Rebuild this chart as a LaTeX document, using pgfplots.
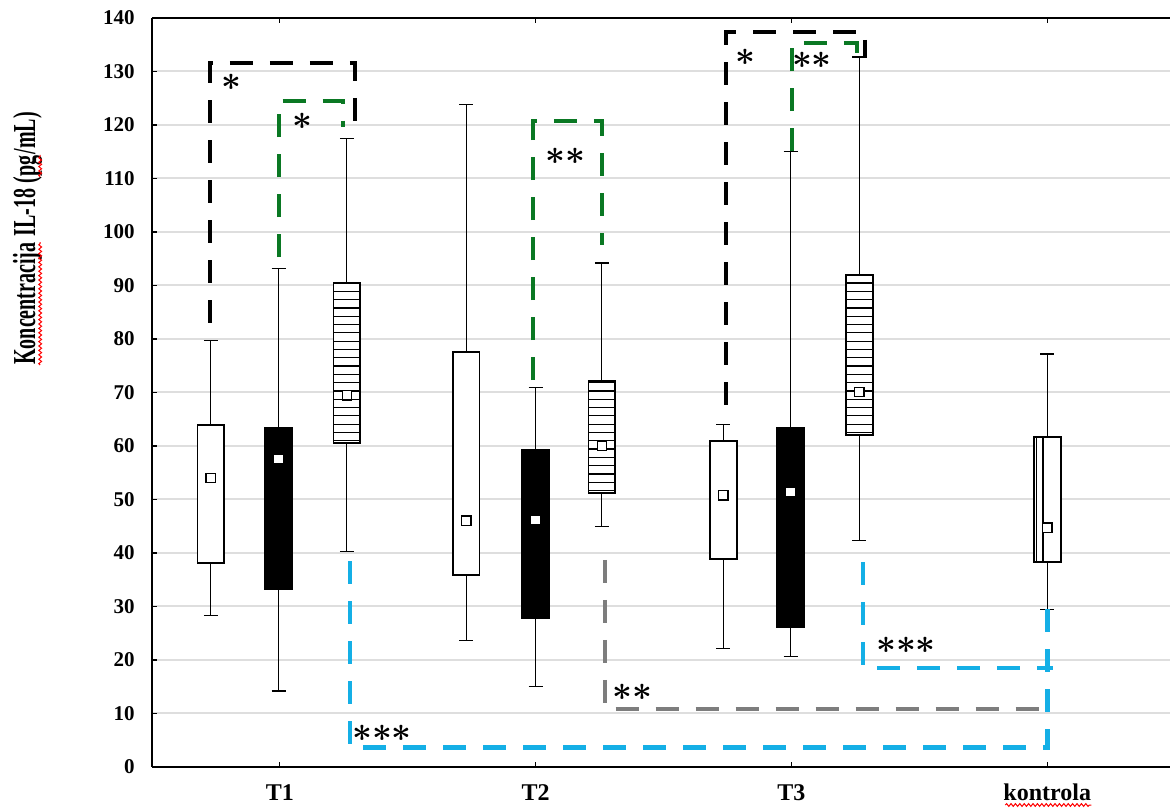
\documentclass[border=0pt]{standalone}
\usepackage{fontspec}
\setmainfont{Liberation Serif}
\usepackage{graphicx}
\usepackage{pgfplots}
\pgfplotsset{compat=1.18}
\usetikzlibrary{patterns,decorations.pathmorphing}
\pgfdeclarepatternformonly{hstripes}{\pgfpointorigin}{\pgfqpoint{100pt}{1pt}}{\pgfqpoint{100pt}{4.15pt}}{%
  \pgfsetlinewidth{0.6pt}%
  \pgfpathmoveto{\pgfqpoint{0pt}{0.5pt}}%
  \pgfpathlineto{\pgfqpoint{100pt}{0.5pt}}%
  \pgfusepath{stroke}}
\definecolor{sigGreen}{RGB}{10,120,35}
\definecolor{sigCyan}{RGB}{20,175,230}
\definecolor{sigGray}{RGB}{125,125,125}
\definecolor{gridGray}{RGB}{222,222,222}
\newcommand\st{{\boldmath$\ast$}}
\tikzset{
  redwave/.style={red, line width=0.5pt, decorate, decoration={snake, amplitude=0.7pt, segment length=2.2pt}},
  star/.style={font=\fontsize{16.5}{16.5}\selectfont, inner sep=0pt},
  ylab/.style={rotate=90, font=\bfseries\fontsize{10}{12}\selectfont, inner sep=0pt, anchor=base west},
}
\newcommand\tall[1]{\scalebox{1}[1.6]{#1}}
\pgfplotsset{
  whisk/.style={black, line width=0.55pt, forget plot},
  boxw/.style={draw=black, fill=white, line width=0.9pt},
  boxb/.style={draw=black, fill=black, line width=0.9pt},
  boxs/.style={draw=black, fill=white, line width=0.9pt, postaction={pattern=hstripes}},
}
% #1 pos, #2 cap left, #3 cap right, #4 lower whisker, #5 upper whisker
\newcommand\whisk[5]{%
  \addplot[whisk] coordinates {(#1,#4) (#1,#5)};
  \addplot[whisk] coordinates {(#2,#4) (#3,#4)};
  \addplot[whisk] coordinates {(#2,#5) (#3,#5)};
}
% #1 style, #2 left, #3 right, #4 lower quartile, #5 upper quartile
\newcommand\qbox[5]{%
  \addplot[#1] coordinates {(#2,#4) (#3,#4) (#3,#5) (#2,#5)} -- cycle;
}
\begin{document}
\begin{tikzpicture}
\begin{axis}[
  at={(76pt,20pt)}, anchor=south west,
  scale only axis, width=509pt, height=374.5pt,
  xmin=-0.5, xmax=3.48, ymin=0, ymax=140,
  axis y line*=left,
  ytick={0,10,...,140},
  xtick={0,1,2,3},
  xticklabels={T1,T2,T3,kontrola},
  ymajorgrids, grid style={gridGray, line width=1pt},
  axis line style={line width=0.9pt},
  tick align=inside, major tick length=2.5pt,
  tick style={line width=0.6pt, black},
  /pgf/number format/assume math mode=true,
  yticklabel style={font=\bfseries\fontsize{10.5}{12}\selectfont, inner sep=0pt, xshift=-8.5pt},
  xticklabel style={font=\bfseries\fontsize{12}{13}\selectfont, anchor=base, yshift=-16.5pt, inner sep=0pt},
  clip=false,
]
% ---------- T1 ----------
\whisk{-0.27}{-0.2975}{-0.2425}{28.4}{79.8}
\qbox{boxw}{-0.3225}{-0.2175}{38.1}{63.9}
\whisk{-0.005}{-0.0325}{0.0225}{14.2}{93.1}
\qbox{boxb}{-0.0575}{0.0475}{33.3}{63.4}
\whisk{0.262}{0.2345}{0.2895}{40.2}{117.4}
\qbox{boxs}{0.2095}{0.3145}{60.6}{90.5}
% ---------- T2 ----------
\whisk{0.728}{0.7005}{0.7555}{23.6}{123.9}
\qbox{boxw}{0.6755}{0.7805}{35.9}{77.6}
\whisk{1.0}{0.9725}{1.0275}{15.1}{71.0}
\qbox{boxb}{0.9475}{1.0525}{27.8}{59.3}
\whisk{1.259}{1.2315}{1.2865}{45.0}{94.2}
\qbox{boxs}{1.2065}{1.3115}{51.2}{72.1}
% ---------- T3 ----------
\whisk{1.733}{1.7055}{1.7605}{22.1}{64.1}
\qbox{boxw}{1.6805}{1.7855}{38.9}{61.0}
\whisk{1.997}{1.9695}{2.0245}{20.6}{115.1}
\qbox{boxb}{1.9445}{2.0495}{26.2}{63.4}
\whisk{2.265}{2.2375}{2.2925}{42.4}{132.7}
\qbox{boxs}{2.2125}{2.3175}{62.1}{92.0}
% ---------- kontrola ----------
\whisk{3.0}{2.9725}{3.0275}{29.5}{77.2}
\qbox{boxw}{2.9475}{3.0525}{38.3}{61.7}
\addplot[black, line width=0.7pt] coordinates {(2.957,38.3) (2.957,61.7)};
\addplot[black, line width=0.7pt] coordinates {(2.984,38.3) (2.984,61.7)};
% ---------- means ----------
\addplot[only marks, mark=square*, mark size=2.4pt, mark options={fill=white, draw=black, line width=0.6pt}] coordinates {
 (-0.27,54.0) (-0.005,57.6) (0.262,69.5)
 (0.728,46.0) (1.0,46.2) (1.259,60.0)
 (1.733,50.8) (1.997,51.4) (2.265,70.1)
 (3.0,44.7)};
% ---------- significance brackets ----------
\addplot[black, line width=2.3pt, dash pattern=on 11.5pt off 8.5pt] coordinates {(-0.274,83) (-0.274,131.6) (0.293,131.6) (0.293,119.6)};
\addplot[sigGreen, line width=2.1pt, dash pattern=on 11.5pt off 8.5pt] coordinates {(-0.004,95.3) (-0.004,124.5) (0.246,124.5) (0.246,119.6)};
\addplot[sigGreen, line width=2.1pt, dash pattern=on 11.5pt off 8.5pt] coordinates {(0.989,72.3) (0.989,120.7) (1.259,120.7) (1.259,97.6)};
\addplot[black, line width=2.3pt, dash pattern=on 11.5pt off 8.5pt] coordinates {(1.744,67.7) (1.744,137.4) (2.288,137.4) (2.288,132.5)};
\addplot[sigGreen, line width=2.1pt, dash pattern=on 11.5pt off 8.5pt] coordinates {(2.002,115.1) (2.002,135.3) (2.257,135.3) (2.257,132.3)};
\addplot[sigCyan, line width=2.4pt, dash pattern=on 11.5pt off 8.5pt] coordinates {(0.274,38.5) (0.274,3.6) (3.0,3.6) (3.0,29.5)};
\addplot[sigGray, line width=2.1pt, dash pattern=on 11.5pt off 8.5pt] coordinates {(1.271,38.7) (1.271,10.8) (2.992,10.8)};
\addplot[sigCyan, line width=2.4pt, dash pattern=on 11.5pt off 8.5pt] coordinates {(2.28,38.3) (2.28,18.5) (3.023,18.5)};
% ---------- stars ----------
\node[star] at (axis cs:-0.188,128.0) {\st};
\node[star] at (axis cs:0.09,120.6) {\st};
\node[star] at (axis cs:1.115,114.2) {\st\st};
\node[star] at (axis cs:1.819,132.7) {\st};
\node[star] at (axis cs:2.08,132.1) {\st\st};
\node[star] at (axis cs:0.399,6.3) {\st\st\st};
\node[star] at (axis cs:1.377,14.0) {\st\st};
\node[star] at (axis cs:2.448,22.8) {\st\st\st};
\coordinate (ktick) at (axis cs:3,0);
\end{axis}
% spell-check wave under "kontrola"
\draw[redwave] ([xshift=-21pt,yshift=-19pt]ktick) -- ([xshift=22pt,yshift=-19pt]ktick);
% y label built from pieces so the red waves can follow words
\node[ylab] (ya) at (17.5pt,221pt) {\tall{Koncentracija}};
\node[ylab] (yb) at (ya.base east) {\tall{\ IL-18 (}};
\node[ylab] (yc) at (yb.base east) {\tall{pg}};
\node[ylab] (yd) at (yc.base east) {\tall{/mL)}};
\draw[redwave] ([xshift=2.6pt]ya.base west) -- ([xshift=2.6pt]ya.base east);
\draw[redwave] ([xshift=2.6pt]yc.base west) -- ([xshift=2.6pt]yc.base east);
\pgfresetboundingbox
\path (0pt,0pt) rectangle (585pt,403.5pt);
\end{tikzpicture}
\end{document}
